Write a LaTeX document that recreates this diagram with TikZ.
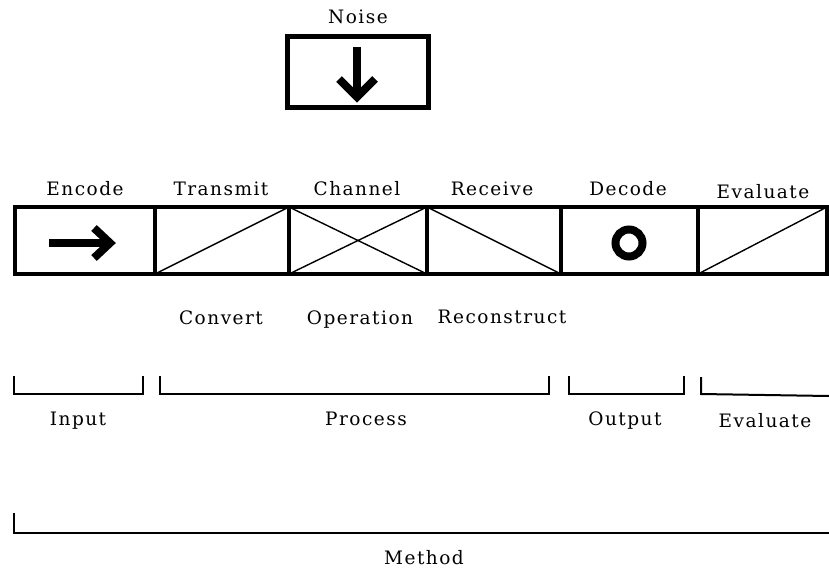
\documentclass[tikz,border=0pt]{standalone}
\usepackage{fontspec}
\setmainfont{DejaVu Serif}[LetterSpace=8]
\begin{document}
\begin{tikzpicture}[x=1pt, y=-1pt,
cell/.style={rectangle, draw=black, line width=4.5pt, minimum height=67pt, inner sep=0pt, outer sep=0pt},
tag/.style={anchor=base, font=\fontsize{18.5}{22}\selectfont},
diag/.style={line width=1.4pt},
brk/.style={line width=2pt},
fat/.style={line width=8pt},
]
\useasboundingbox (0,0) rectangle (829,570);

% noise source
\node[tag] (noise-l) at (358,23) {Noise};
\node[cell, line width=5pt, minimum width=141pt, minimum height=71pt] (noise) at (357.5,71.5) {};
\draw[fat] (357,47) -- (357,94);
\draw[fat, line join=miter] (339,79) -- (357,97) -- (375,79);

% the chain of cells
\node[cell, minimum width=140pt] (encode) at (85,240.5) {};
\node[cell, minimum width=134pt] (transmit) at (222,240.5) {};
\node[cell, minimum width=138pt] (channel) at (358,240.5) {};
\node[cell, minimum width=134pt] (receive) at (494,240.5) {};
\node[cell, minimum width=137pt] (decode) at (629.5,240.5) {};
\node[cell, minimum width=129pt] (evaluate) at (762.5,240.5) {};

\node[tag] (encode-l) at (85,195) {Encode};
\node[tag] (transmit-l) at (221,195) {Transmit};
\node[tag] (channel-l) at (357,195) {Channel};
\node[tag] (receive-l) at (492,195) {Receive};
\node[tag] (decode-l) at (628,195) {Decode};
\node[tag] (evaluate-l) at (763,198) {Evaluate};

% cell contents
\draw[fat] (49,243) -- (107,243);
\draw[fat, line join=miter] (94,228) -- (110,243) -- (94,258);
\draw[diag] (transmit.south west) -- (transmit.north east);
\draw[diag] (channel.south west) -- (channel.north east)
            (channel.north west) -- (channel.south east);
\draw[diag] (receive.north west) -- (receive.south east);
\draw[line width=8pt] (629,243) circle[radius=13.5pt];
\draw[diag] (evaluate.south west) -- (evaluate.north east);

\node[tag] (convert) at (221,324) {Convert};
\node[tag] (operation) at (360,324) {Operation};
\node[tag] (reconstruct) at (502,323) {Reconstruct};

% groupings
\draw[brk] (14,376) -- (14,394) -- (143,394) -- (143,376);
\draw[brk] (160,376) -- (160,394) -- (549,394) -- (549,376);
\draw[brk] (569,376) -- (569,394) -- (684,394) -- (684,376);
\draw[brk] (701,377) -- (701,394) -- (829,396);
\node[tag] (input) at (78,425) {Input};
\node[tag] (process) at (366,425) {Process};
\node[tag] (output) at (625,425) {Output};
\node[tag] (evaluate-g) at (765,427) {Evaluate};

\draw[brk] (14,513) -- (14,533) -- (829,533);
\node[tag] (method) at (424,564) {Method};
\end{tikzpicture}
\end{document}
